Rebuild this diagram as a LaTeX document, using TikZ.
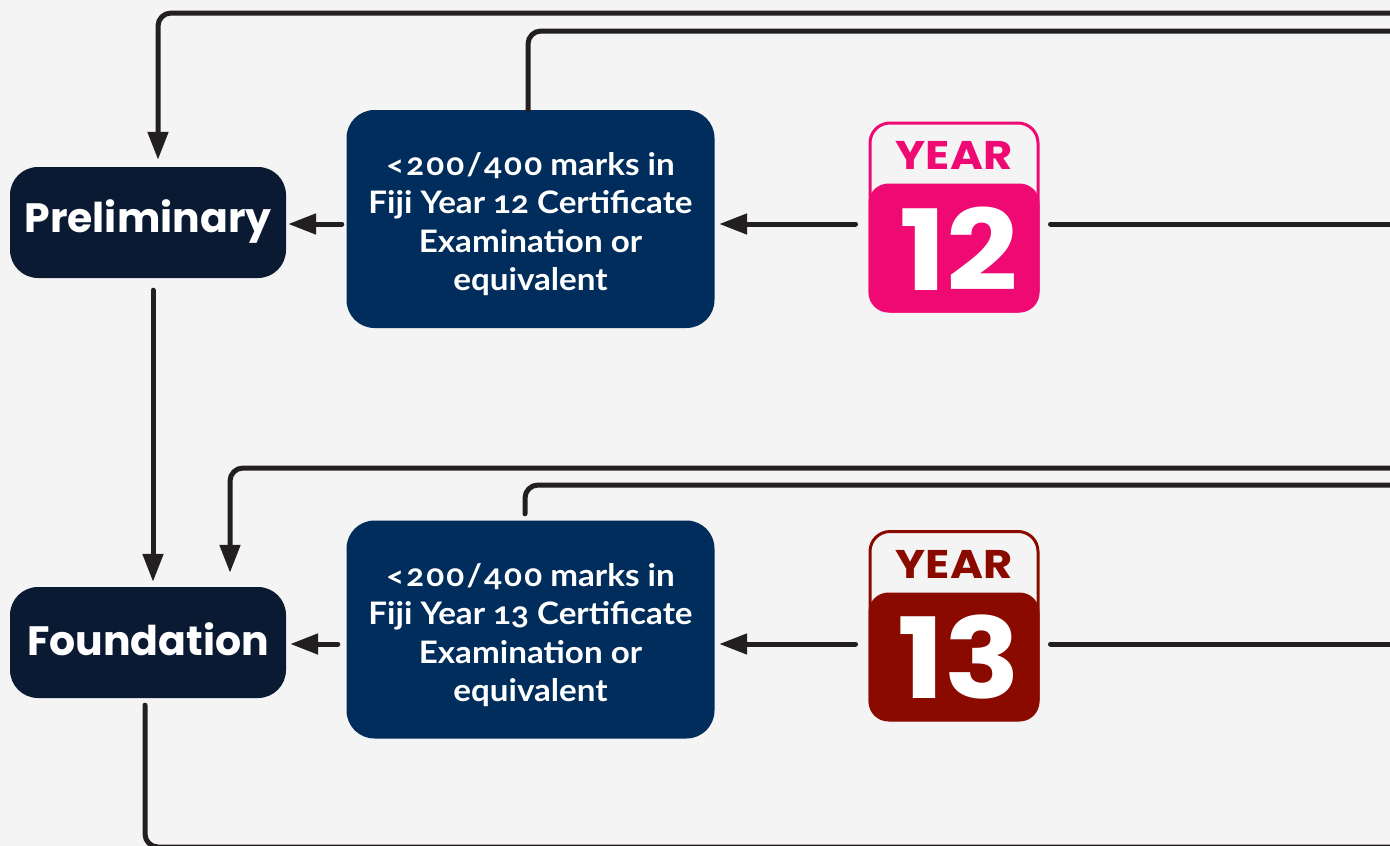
\documentclass[tikz,border=0pt]{standalone}
\usepackage{fontspec}
\setmainfont{Poppins}
\newfontfamily\bodyfont[Numbers=OldStyle,FakeStretch=1.07]{Lato}
\newfontfamily\widefont[FakeStretch=1.12]{Poppins}
\usetikzlibrary{arrows.meta,calc}
\definecolor{bgc}{HTML}{F4F4F4}
\definecolor{ink}{HTML}{231F20}
\definecolor{navy}{HTML}{0A1A33}
\definecolor{blue}{HTML}{002D5B}
\definecolor{pinky}{HTML}{EE0A72}
\definecolor{maroon}{HTML}{8B0A00}
\newcommand{\wnum}[1]{{\addfontfeature{LetterSpace=7}#1}}
\tikzset{
 x=1pt,y=-1pt,
 conn/.style={draw=ink,line width=5pt,line cap=round,rounded corners=13pt},
 arr/.style={conn,-{Triangle[length=28pt,width=20pt]}},
 level/.style={fill=navy,rounded corners=28pt,minimum width=276pt,minimum height=111pt,inner sep=0pt},
 leveltext/.style={text=white,inner sep=0pt,font=\fontsize{41}{44}\selectfont\bfseries},
 cond/.style={fill=blue,rounded corners=28pt,minimum width=368pt,minimum height=218pt,inner sep=0pt},
 condtext/.style={text=white,inner sep=0pt,align=center,font=\bodyfont\fontsize{31}{38.5}\selectfont\bfseries},
 card/.style={draw=#1,line width=3pt,fill=none,rounded corners=20pt,minimum width=168pt,minimum height=188pt,inner sep=0pt},
 cardbody/.style={fill=#1,rounded corners=20pt,minimum width=171pt,minimum height=129pt,inner sep=0pt},
 cardnum/.style={text=white,inner sep=0pt,font=\widefont\fontsize{112}{112}\selectfont\bfseries},
 cardhead/.style={text=#1,inner sep=0pt,font=\widefont\fontsize{40}{40}\selectfont\bfseries},
}
\begin{document}
\begin{tikzpicture}
\fill[bgc] (0,0) rectangle (1390,846);
\useasboundingbox (0,0) rectangle (1390,846);
\node[level] (pre) at (148,222.5) {};
\node[leveltext] (pret) at (148,221.5) {Preliminary};
\node[level] (fou) at (148,642.5) {};
\node[leveltext] (fout) at (148,639.5) {Foundation};
\node[cond] (b1) at (530.5,219) {};
\node[condtext] (b1t) at (530.5,224) {\wnum{<200/400} marks in\\Fiji Year 12 Certificate\\Examination or\\equivalent};
\node[cond] (b2) at (530.5,629.5) {};
\node[condtext] (b2t) at (530.5,635) {\wnum{<200/400} marks in\\Fiji Year 13 Certificate\\Examination or\\equivalent};
\node[card=pinky] (y12) at (954,217) {};
\node[cardbody=pinky] (n12) at (954,248) {};
\node[cardnum] (n12t) at (959,249) {12};
\node[cardhead=pinky] (h12) at (954,155) {YEAR};
\node[card=maroon] (y13) at (954,625.5) {};
\node[cardbody=maroon] (n13) at (954,657) {};
\node[cardnum] (n13t) at (959,657) {13};
\node[cardhead=maroon] (h13) at (954,564) {YEAR};
\coordinate (r1) at (1392,13);
\coordinate (r2) at (1392,31);
\coordinate (r3) at (1392,224);
\coordinate (r4) at (1392,468);
\coordinate (r5) at (1392,485);
\coordinate (r6) at (1392,644);
\coordinate (r7) at (1392,847);
\draw[arr,shorten >=7pt] (r1) -- (158,13) -- (158,0 |- pre.north);
\draw[conn] (528,0 |- b1.north) -- (528,31) -- (r2);
\draw[arr,shorten <=4.5pt,shorten >=2pt] (b1.west |- 0,224) -- (pre.east |- 0,224);
\draw[arr,shorten <=13pt,shorten >=4.5pt] (y12.west |- 0,224) -- (b1.east |- 0,224);
\draw[conn,shorten <=11pt] (y12.east |- 0,224) -- (r3);
\draw[arr,shorten <=12pt,shorten >=5pt] (153,0 |- pre.south) -- (153,0 |- fou.north);
\draw[arr,shorten >=14pt] (r4) -- (230,468) -- (230,0 |- fou.north);
\draw[conn,shorten <=6.5pt] (525,0 |- b2.north) -- (525,485) -- (r5);
\draw[arr,shorten <=8.5pt,shorten >=4pt] (b2.west |- 0,644) -- (fou.east |- 0,644);
\draw[arr,shorten <=13pt,shorten >=4.5pt] (y13.west |- 0,644) -- (b2.east |- 0,644);
\draw[conn,shorten <=11pt] (y13.east |- 0,644) -- (r6);
\draw[conn,shorten <=7pt] (145,0 |- fou.south) -- (145,847) -- (r7);
\end{tikzpicture}
\end{document}
